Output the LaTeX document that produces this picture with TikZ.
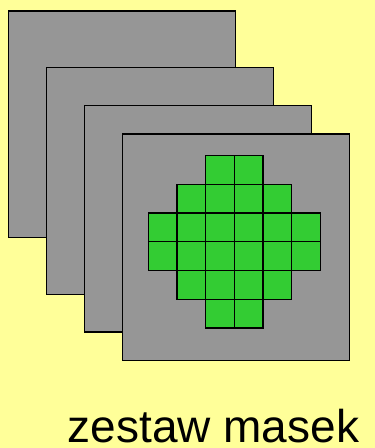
\documentclass[tikz,border=0pt]{standalone}
\usepackage{fontspec}
\setmainfont{Liberation Sans}
\definecolor{maskBg}{HTML}{FFFF99}
\definecolor{maskGray}{HTML}{969696}
\definecolor{maskGreen}{HTML}{33CC33}

\begin{document}
\begin{tikzpicture}[
  x=1pt, y=-1pt,
  sheet/.style={draw=black, fill=maskGray, line width=1.3pt},
  cell/.style={draw=black, fill=maskGreen, line width=1.3pt},
]
% Background
\fill[maskBg] (0,0) rectangle (375,448);
\useasboundingbox (0,0) rectangle (375,448);

% Stacked masks, back to front
\foreach \sx/\sy in {8.7/11, 46.3/67.7, 84.3/105.3, 122.3/134}
  \draw[sheet] (\sx,\sy) rectangle ++(227,226.7);

% Green pixels on the front mask
\foreach \row/\first/\last in {0/2/3, 1/1/4, 2/0/5, 3/0/5, 4/1/4, 5/2/3}
  \foreach \col in {\first,...,\last}
    \draw[cell] ({148.3+28.67*\col},{155.7+28.7*\row}) rectangle ++(28.67,28.7);

% Caption
\node[anchor=base west, inner sep=0pt, font=\fontsize{46}{50}\selectfont] (caption) at (67.5,442.5) {zestaw masek};
\end{tikzpicture}
\end{document}
